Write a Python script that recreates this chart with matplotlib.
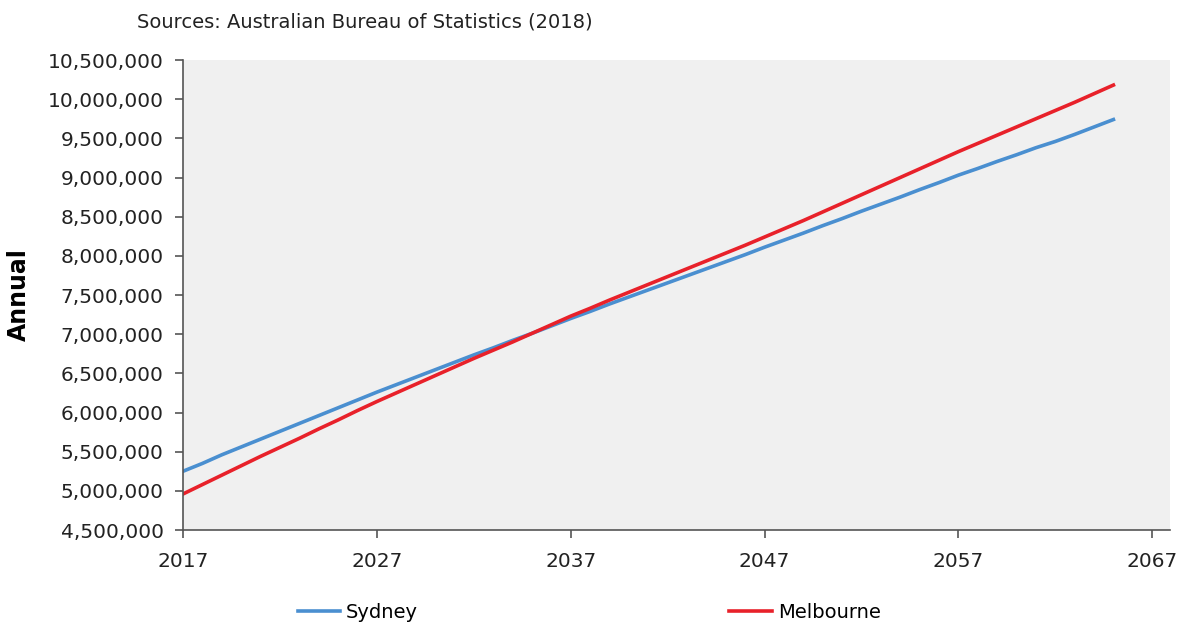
import matplotlib.pyplot as plt
from matplotlib.ticker import FuncFormatter, MultipleLocator

years = list(range(2017, 2066))

sydney = [
    5250000, 5350000, 5460000, 5560000, 5660000, 5760000, 5860000, 5960000, 6060000, 6160000,
    6260000, 6355000, 6450000, 6545000, 6640000, 6735000, 6825000, 6920000, 7010000, 7105000,
    7200000, 7290000, 7385000, 7475000, 7565000, 7655000, 7745000, 7835000, 7925000, 8015000,
    8110000, 8200000, 8290000, 8385000, 8475000, 8570000, 8660000, 8750000, 8845000, 8935000,
    9030000, 9115000, 9205000, 9290000, 9380000, 9460000, 9550000, 9645000, 9740000,
]

melbourne = [
    4960000, 5080000, 5200000, 5320000, 5440000, 5555000, 5670000, 5790000, 5905000, 6025000,
    6140000, 6250000, 6360000, 6470000, 6580000, 6690000, 6795000, 6900000, 7010000, 7120000,
    7230000, 7330000, 7435000, 7535000, 7635000, 7735000, 7835000, 7935000, 8035000, 8135000,
    8240000, 8345000, 8450000, 8560000, 8670000, 8780000, 8890000, 9000000, 9110000, 9220000,
    9330000, 9435000, 9540000, 9645000, 9750000, 9855000, 9960000, 10070000, 10180000,
]

xticks = list(range(2017, 2068, 10))

fig = plt.figure(figsize=(11.83, 6.33), dpi=100)
ax = fig.add_axes([0.1547, 0.1627, 0.834, 0.7425])
ax.set_facecolor('#f0f0f0')

ax.plot(years, sydney, color='#4a8fd0', lw=2.6, label='Sydney')
ax.plot(years, melbourne, color='#e8212a', lw=2.6, label='Melbourne')

ax.set_xlim(2017, 2067.9)
ax.set_ylim(4500000, 10500000)
ax.set_xticks(xticks)
ax.yaxis.set_major_locator(MultipleLocator(500000))
ax.yaxis.set_major_formatter(FuncFormatter(lambda v, p: f'{int(v):,}'))

for s in ['top', 'right']:
    ax.spines[s].set_visible(False)
for s in ['left', 'bottom']:
    ax.spines[s].set_color('#555555')
    ax.spines[s].set_linewidth(1.2)
ax.tick_params(axis='both', direction='out', length=6, width=1.2, color='#555555',
               labelsize=14.5, labelcolor='#222222')
ax.tick_params(axis='x', pad=10)
ax.tick_params(axis='y', pad=8)

ax.set_ylabel('Annual', fontsize=17, fontweight='bold', labelpad=12)
fig.text(0.116, 0.965, 'Sources: Australian Bureau of Statistics (2018)',
         fontsize=14, color='#222222', va='center')

fig.legend(loc='center', bbox_to_anchor=(0.498, 0.032), ncol=2, frameon=False,
           fontsize=14, handlelength=2.2, columnspacing=16, handletextpad=0.3)

fig.savefig('out.png', dpi=100)
